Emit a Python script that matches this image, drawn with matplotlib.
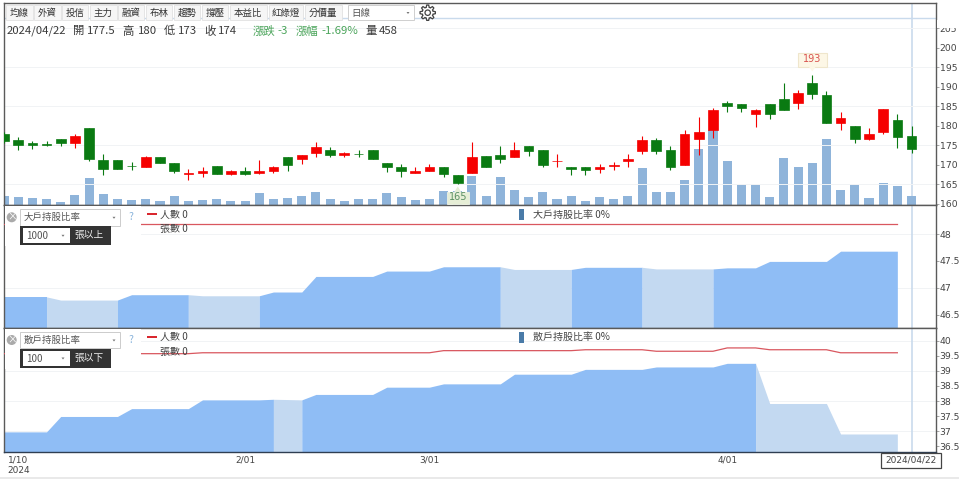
import numpy as np
import matplotlib
matplotlib.use("Agg")
import matplotlib.pyplot as plt
from matplotlib.patches import Rectangle, Circle, Polygon

plt.rcParams['font.family'] = ['Noto Sans CJK TC', 'DejaVu Sans']

# ---------- data ----------
opens = [176, 176.4, 175.5, 175.4, 176.5, 175.5, 179.5, 171.3, 171.3, 169.8, 169.5, 171.9, 170.4,
         167.6, 167.9, 169.8, 167.6, 168.4, 167.9, 168.4, 171.9, 171.4, 173, 173.9, 172.4, 172.9,
         173.9, 170.4, 169.5, 167.9, 168.5, 169.4, 167.4, 168,
         172.3, 172.4, 172, 174.9, 173.9, 170.9, 169.4, 169.4, 168.9, 169.8, 171.1, 173.6,
         176.4, 173.9, 170, 176.5, 179, 185.9, 185.5, 183.1, 185.5, 186.9, 185.7, 191,
         187.9, 180.6, 179.9, 176.5, 178.5, 181.4, 177.5]
closes = [177.9, 175, 175, 175, 175.5, 177.4, 171.4, 169, 169, 169.6, 171.9, 170.5, 168.5,
          167.9, 168.4, 167.6, 168.4, 167.6, 168.4, 169.5, 170, 172.4, 174.5, 172.4, 173, 172.8,
          171.4, 169.5, 168.5, 168.5, 169.5, 167.6, 165.4, 171.9,
          169.5, 171.5, 173.9, 173.6, 169.9, 171.1, 168.9, 168.6, 169.4, 169.9, 171.4, 176.4,
          173.6, 169.5, 178, 178.3, 184, 185.1, 184.5, 184, 183.1, 184.1, 188.5, 188,
          180.6, 181.9, 176.5, 178, 184.4, 177.1, 174]
highs = [178.5, 177.2, 176, 176.2, 176.5, 177.9, 179.5, 172.8, 171.3, 170.8, 172.3, 171.9, 170.4,
         168.9, 169.4, 169.8, 168.7, 169.4, 171.25, 169.7, 171.9, 172.5, 175.8, 174.6, 173.4, 173.9,
         173.9, 170.4, 170.3, 169.4, 170.3, 169.5, 167.4, 175.8,
         172.3, 174.9, 175.8, 174.9, 173.9, 172.9, 169.4, 169.4, 170.3, 170.8, 172.9, 177.4,
         177, 174.8, 178.9, 182.3, 184.5, 186.4, 185.5, 184.4, 185.5, 190.9, 189.2, 193,
         189, 183.4, 179.9, 179.4, 184.4, 182.9, 180]
lows = [175.5, 173.8, 174, 174.9, 174.8, 174.4, 171, 167.4, 169, 168.7, 169.4, 170.5, 167.8,
        166.1, 166.8, 167.6, 167.5, 167.5, 167.7, 167.8, 168.4, 170.2, 172.1, 171.9, 171.9, 171.9,
        171.4, 168.3, 166.8, 167.8, 168.4, 166.8, 165, 168,
        169.5, 170.4, 171.9, 172.3, 169.4, 169.4, 167.3, 167.3, 167.8, 168.7, 169.4, 172.8,
        172.9, 168.7, 169.9, 172.5, 176.8, 183.4, 183.4, 179.8, 181.7, 184.1, 184.2, 186.9,
        180.6, 178.8, 175.7, 176.4, 177.9, 174.3, 173]
up_day = [0, 0, 0, 0, 0, 1, 0, 0, 0, 0, 1, 0, 0, 1, 1, 0, 1, 0, 1, 1, 0, 1, 1, 0, 1, 0, 0, 0, 0, 1, 1, 0, 0, 1,
          0, 0, 1, 0, 0, 1, 0, 0, 1, 1, 1, 1, 0, 0, 1, 1, 1, 0, 0, 1, 0, 0, 1, 0, 0, 1, 0, 1, 1, 0, 0]
volumes = [490, 420, 390, 330, 175, 530, 1410, 560, 300, 265, 300, 190, 460, 230, 265, 330, 190, 230,
           615, 330, 390, 460, 705, 330, 230, 330, 330, 615, 420, 265, 330, 740, 740, 1530,
           490, 1500, 810, 420, 670, 330, 460, 190, 420, 330, 490, 1935, 670, 670, 1300, 2960, 3960,
           2340, 1075, 1075, 420, 2500, 1990, 2220, 3470, 810, 1075, 370, 1145, 1020, 458]
big_ratio = [46.83, 46.83, 46.83, 46.83, 46.77, 46.77, 46.77, 46.77, 46.77,
             46.87, 46.87, 46.87, 46.87, 46.87, 46.85, 46.85, 46.85, 46.85, 46.85,
             46.92, 46.92, 46.92, 47.21, 47.21, 47.21, 47.21, 47.21, 47.31, 47.31, 47.31, 47.31,
             47.39, 47.39, 47.39, 47.39, 47.39, 47.34, 47.34, 47.34, 47.34, 47.34,
             47.38, 47.38, 47.38, 47.38, 47.38, 47.35, 47.35, 47.35, 47.35, 47.35,
             47.37, 47.37, 47.37, 47.49, 47.49, 47.49, 47.49, 47.49, 47.68, 47.68, 47.68, 47.68, 47.68]
big_people = [48.18] * 64
retail_ratio = [36.98, 36.98, 36.98, 36.98, 37.49, 37.49, 37.49, 37.49, 37.49,
                37.75, 37.75, 37.75, 37.75, 37.75, 38.04, 38.04, 38.04, 38.04, 38.04,
                38.06, 38.05, 38.04, 38.22, 38.22, 38.22, 38.22, 38.22, 38.46, 38.46, 38.46, 38.46,
                38.57, 38.57, 38.57, 38.57, 38.57, 38.89, 38.89, 38.89, 38.89, 38.89,
                39.05, 39.05, 39.05, 39.05, 39.05, 39.13, 39.13, 39.13, 39.13, 39.13,
                39.25, 39.25, 39.25, 37.92, 37.92, 37.92, 37.92, 37.92, 36.91, 36.91, 36.91, 36.91, 36.91]
retail_people = [39.57] * 14 + [39.60] * 17 + [39.67] * 10 + [39.70] * 5 + [39.65] * 5 + [39.76] * 3 + [39.70] * 5 + [39.60] * 5
big_bands = [(0, 3, 0), (3, 8, 1), (8, 13, 0), (13, 18, 1), (18, 35, 0), (35, 40, 1), (40, 45, 0), (45, 50, 1), (50, 63, 0)]
retail_bands = [(0, 19, 0), (19, 21, 1), (21, 53, 0), (53, 63, 1)]
date_pos = [1, 17, 30, 51]
date_labels = ['1/10\n2024', '2/01', '3/01', '4/01']
buttons = ['均線', '外資', '投信', '主力', '融資', '布林', '趨勢', '撐壓', '本益比', '紅綠燈', '分價量']
stats = [('2024/04/22', 7), ('開', 73), ('177.5', 87), ('高', 122), ('180', 137.5), ('低', 164), ('173', 177.5),
         ('收', 204.5), ('174', 218)]
stats_green = [('漲跌', 252.5), ('-3', 277.5), ('漲幅', 296), ('-1.69%', 321.5)]
stats_tail = [('量', 365.5), ('458', 379)]
last_date = '2024/04/22'
max_label = '193'
min_label = '165'

# ---------- layout ----------
W, H = 959, 479
fig = plt.figure(figsize=(W / 100, H / 100), dpi=100, facecolor='white')


def px_axes(left, top, right, bottom, **kw):
    return fig.add_axes([left / W, 1 - bottom / H, (right - left) / W, (bottom - top) / H], **kw)


X0, STEP = 4.0, 14.18
L, R = 3.5, 935.5
xlim = ((L - X0) / STEP, (R - X0) / STEP)
RED, GREEN, VOL = '#f50000', '#0a7a12', '#8fb4da'
DARK, LIGHT = '#8fbdf5', '#c3d9f1'
LINE = '#d9575f'
GRID = '#f1f3f5'
CROSS = '#c9daec'
SPINE = '#5a5a5a'
TICKC = '#444444'


def style(ax, yticks, ylabels):
    ax.set_xlim(*xlim)
    ax.yaxis.tick_right()
    ax.set_yticks(yticks)
    ax.set_yticklabels(ylabels, family='DejaVu Sans', fontsize=6.7, color=TICKC)
    ax.tick_params(axis='y', length=2, width=0.6, color='#999999', pad=1)
    ax.tick_params(axis='x', length=0, labelbottom=False)
    for s in ax.spines.values():
        s.set_color(SPINE)
        s.set_linewidth(1.0)


# volume (behind the candles)
ax_v = px_axes(L, 3, R, 205, zorder=1)
ax_v.set_xlim(*xlim)
ax_v.set_ylim(0, 10666)
ax_v.set_xticks([])
ax_v.set_yticks([])
ax_v.axvline(64, color=CROSS, lw=1.2, zorder=0)
ax_v.bar(range(len(volumes)), volumes, width=0.64, color=VOL, lw=0, zorder=2)
for s in ax_v.spines.values():
    s.set_visible(False)

# candles
ax_p = px_axes(L, 3, R, 205, zorder=2)
ax_p.patch.set_alpha(0)
ax_p.set_ylim(159.74, 211.4)
style(ax_p, list(range(160, 206, 5)), [str(v) for v in range(160, 206, 5)])
for g in (165, 175, 185, 195, 205):
    ax_p.axhline(g, color=GRID, lw=0.7, zorder=0)
ax_p.axhline(207.57, color=CROSS, lw=1.0, zorder=1)
for i in range(len(opens)):
    c = RED if up_day[i] else GREEN
    ax_p.vlines(i, lows[i], highs[i], color=c, lw=0.8, zorder=3)
    lo, hi = sorted((opens[i], closes[i]))
    ax_p.bar(i, hi - lo, bottom=lo, width=0.68, color=c, edgecolor=c, lw=0.5, zorder=4)

# big holders
ax_b = px_axes(L, 205, R, 328, zorder=3)
ax_b.set_ylim(46.25, 48.54)
style(ax_b, [46.5, 47, 47.5, 48], ['46.5', '47', '47.5', '48'])
for g in (47, 48):
    ax_b.axhline(g, color=GRID, lw=0.7, zorder=0)
ax_b.axvline(64, color=CROSS, lw=1.2, zorder=0)
for a, b, light in big_bands:
    xs = np.arange(a, b + 1)
    ax_b.fill_between(xs, big_ratio[a:b + 1], 46.25, color=LIGHT if light else DARK, lw=0, zorder=2)
ax_b.plot(range(len(big_people)), big_people, color=LINE, lw=0.9, zorder=3)

# retail holders
ax_r = px_axes(L, 328, R, 451.5, zorder=3)
ax_r.set_ylim(36.33, 40.42)
style(ax_r, [36.5, 37, 37.5, 38, 38.5, 39, 39.5, 40], ['36.5', '37', '37.5', '38', '38.5', '39', '39.5', '40'])
for g in (37, 38, 39, 40):
    ax_r.axhline(g, color=GRID, lw=0.7, zorder=0)
ax_r.axvline(64, color=CROSS, lw=1.2, zorder=0)
for a, b, light in retail_bands:
    xs = np.arange(a, b + 1)
    ax_r.fill_between(xs, retail_ratio[a:b + 1], 36.33, color=LIGHT if light else DARK, lw=0, zorder=2)
ax_r.plot(range(len(retail_people)), retail_people, color=LINE, lw=0.9, zorder=3)
ax_r.spines['bottom'].set_color('#2f3e52')
ax_r.set_xticks(date_pos)
ax_r.set_xticklabels(date_labels, family='DejaVu Sans', fontsize=6.5, color=TICKC, linespacing=1.15)
ax_r.tick_params(axis='x', length=0, labelbottom=True, pad=3)

# ---------- overlay widgets (pixel coordinates) ----------
ov = fig.add_axes([0, 0, 1, 1], zorder=10)
ov.set_xlim(0, W)
ov.set_ylim(H, 0)
ov.axis('off')
ov.patch.set_alpha(0)


def rect(x0, y0, x1, y1, fc='white', ec='none', lw=0.7, z=1):
    ov.add_patch(Rectangle((x0, y0), x1 - x0, y1 - y0, fc=fc, ec=ec, lw=lw, zorder=z))


def txt(x, y, s, size=6.6, color='#333333', ha='left', z=5, **kw):
    ov.text(x, y, s, fontsize=size, color=color, ha=ha, va='center', zorder=z, **kw)


def caret(x, y, color='#777777'):
    ov.add_patch(Polygon([(x - 1.5, y - 1), (x + 1.5, y - 1), (x, y + 1)], fc=color, ec='none', zorder=5))


# toolbar
btn_x = [(6.3, 33), (34.3, 60.7), (62, 88), (90, 116.7), (118, 144), (146, 172), (174, 200), (202, 228),
         (230, 266.7), (268.7, 303), (305, 341.7)]
for (x0, x1), name in zip(btn_x, buttons):
    rect(x0, 5, x1, 20, fc='#f6f6f6', ec='#e2e2e2', lw=0.6)
    txt((x0 + x1) / 2, 13, name, size=6.8, ha='center')
rect(347.7, 5.3, 414.3, 20, fc='white', ec='#cfcfcf')
txt(351, 13, '日線', size=6.8, color='#555555')
caret(408, 13)

# gear icon
gx, gy = 427.7, 12.7
ang = np.linspace(0, 2 * np.pi, 97)
rad = 6.6 + 1.1 * np.clip(2.2 * np.cos(8 * ang), -1, 1)
ov.add_patch(Polygon(np.c_[gx + rad * np.cos(ang), gy + rad * np.sin(ang)], fc='white', ec='#444444', lw=0.9, zorder=3))
ov.add_patch(Circle((gx, gy), 2.7, fc='white', ec='#444444', lw=0.9, zorder=4))

# stats line
for s, x in stats + stats_tail:
    txt(x, 31.2, s, size=8.2, color='#3a3a3a')
for s, x in stats_green:
    txt(x, 31.2, s, size=8.2, color='#4aa45a')

# cover over the top of the 205 tick label
rect(937, 20, 959, 27.6, fc='white')


def legend(ytop, title, level, side):
    rect(5, ytop - 3, 141, ytop + 37, fc='white', z=0.5)
    ov.add_patch(Circle((11.7, ytop + 8), 5, fc='#aaaaaa', ec='none', zorder=2))
    txt(11.7, ytop + 7.7, '×', size=7, color='white', ha='center')
    rect(20.3, ytop, 120.3, ytop + 16.2, fc='white', ec='#cccccc')
    txt(24, ytop + 8, title, size=6.8, color='#555555')
    caret(114, ytop + 8.5)
    rect(20.3, ytop + 16.7, 111, ytop + 36, fc='#333333')
    rect(22.7, ytop + 19, 69.7, ytop + 34, fc='white')
    txt(26, ytop + 26.5, level, size=7, color='#555555')
    caret(63, ytop + 26.5)
    txt(74, ytop + 26, side, size=7, color='#eeeeee')
    txt(131, ytop + 8, '?', size=7.5, color='#8ab4dc', ha='center')
    ov.plot([146.7, 157], [ytop + 5, ytop + 5], color='#d8232a', lw=1.4, zorder=4, solid_capstyle='butt')
    txt(160, ytop + 5.2, '人數 0', size=7.2, color='#444444')
    txt(160, ytop + 19.7, '張數 0', size=7.2, color='#444444')
    rect(519.2, ytop, 524.3, ytop + 11, fc='#4a7ba8', z=4)
    txt(532.7, ytop + 5.2, title + ' 0%', size=7.2, color='#444444')


legend(209.3, '大戶持股比率', '1000', '張以上')
legend(332, '散戶持股比率', '100', '張以下')

# high / low tags
hx = X0 + STEP * 57
rect(hx - 14.7, 52.7, hx + 15, 66.7, fc='#fdf7e6', ec='#efe6cc', lw=0.8, z=3)
ov.add_patch(Polygon([(hx - 3.5, 66.5), (hx + 3.5, 66.5), (hx, 71.5)], fc='#fdf7e6', ec='none', zorder=4))
txt(hx + 0.2, 59.2, max_label, size=7, color='#d9534f', ha='center', family='DejaVu Sans')
lx = X0 + STEP * 32
rect(lx - 10.5, 191.7, lx + 11, 203.5, fc='#e6eed6', ec='#eef2e2', lw=0.6, z=3)
ov.add_patch(Polygon([(lx - 3.5, 192), (lx + 3.5, 192), (lx, 186.5)], fc='#e6eed6', ec='none', zorder=4))
txt(lx + 0.3, 197.3, min_label, size=7, color='#5a8f62', ha='center', family='DejaVu Sans')

# crosshair date box
rect(881, 452.7, 941, 467.7, fc='white', ec='#444444', lw=0.9, z=3)
txt(911, 460, last_date, size=6.5, color=TICKC, ha='center', family='DejaVu Sans')

# page scrollbar strip
rect(0, 477, 959, 479, fc='#e9e9e9')

fig.savefig('out.png', dpi=100)
